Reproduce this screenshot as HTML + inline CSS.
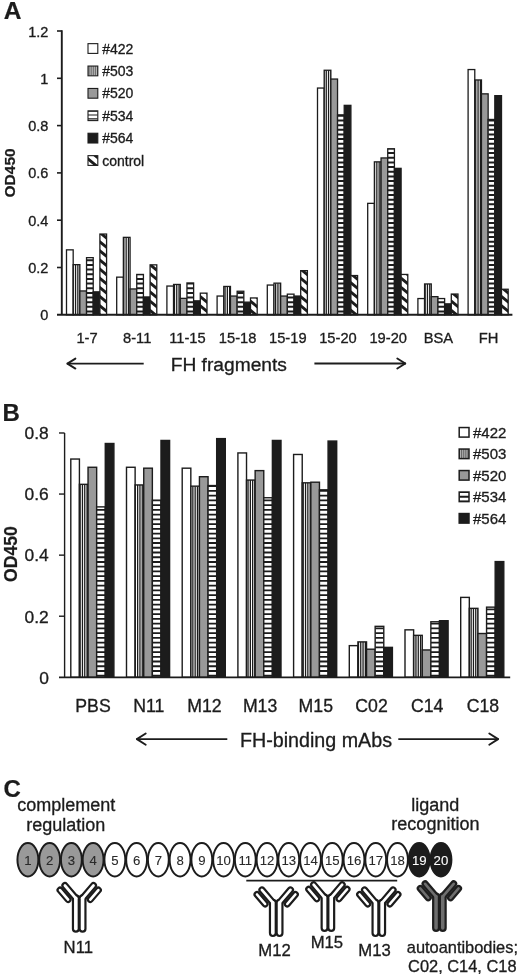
<!DOCTYPE html>
<html><head><meta charset="utf-8"><title>Figure</title>
<style>
html,body{margin:0;padding:0;background:#fff;}
body{width:520px;height:974px;overflow:hidden;}
svg{display:block;font-family:"Liberation Sans",sans-serif;will-change:transform;transform:translateZ(0);}
text{-webkit-font-smoothing:antialiased;}
</style></head><body>
<svg width="520" height="974" viewBox="0 0 520 974">
<defs><clipPath id="c1"><rect x="73.18" y="264.65" width="6.68" height="50.15"/></clipPath><clipPath id="c2"><rect x="86.54" y="257.65" width="6.68" height="57.15"/></clipPath><clipPath id="c3"><rect x="99.90" y="234.05" width="6.68" height="80.75"/></clipPath><clipPath id="c4"><rect x="123.38" y="237.35" width="6.68" height="77.45"/></clipPath><clipPath id="c5"><rect x="136.74" y="274.45" width="6.68" height="40.35"/></clipPath><clipPath id="c6"><rect x="150.10" y="264.85" width="6.68" height="49.95"/></clipPath><clipPath id="c7"><rect x="173.58" y="284.45" width="6.68" height="30.35"/></clipPath><clipPath id="c8"><rect x="186.94" y="282.95" width="6.68" height="31.85"/></clipPath><clipPath id="c9"><rect x="200.30" y="293.15" width="6.68" height="21.65"/></clipPath><clipPath id="c10"><rect x="223.78" y="286.45" width="6.68" height="28.35"/></clipPath><clipPath id="c11"><rect x="237.14" y="291.25" width="6.68" height="23.55"/></clipPath><clipPath id="c12"><rect x="250.50" y="297.95" width="6.68" height="16.85"/></clipPath><clipPath id="c13"><rect x="273.98" y="283.15" width="6.68" height="31.65"/></clipPath><clipPath id="c14"><rect x="287.34" y="294.15" width="6.68" height="20.65"/></clipPath><clipPath id="c15"><rect x="300.70" y="270.65" width="6.68" height="44.15"/></clipPath><clipPath id="c16"><rect x="324.18" y="70.25" width="6.68" height="244.55"/></clipPath><clipPath id="c17"><rect x="337.54" y="114.85" width="6.68" height="199.95"/></clipPath><clipPath id="c18"><rect x="350.90" y="275.55" width="6.68" height="39.25"/></clipPath><clipPath id="c19"><rect x="374.38" y="161.85" width="6.68" height="152.95"/></clipPath><clipPath id="c20"><rect x="387.74" y="148.75" width="6.68" height="166.05"/></clipPath><clipPath id="c21"><rect x="401.10" y="274.45" width="6.68" height="40.35"/></clipPath><clipPath id="c22"><rect x="424.58" y="283.95" width="6.68" height="30.85"/></clipPath><clipPath id="c23"><rect x="437.94" y="298.55" width="6.68" height="16.25"/></clipPath><clipPath id="c24"><rect x="451.30" y="294.05" width="6.68" height="20.75"/></clipPath><clipPath id="c25"><rect x="474.78" y="79.95" width="6.68" height="234.85"/></clipPath><clipPath id="c26"><rect x="488.14" y="119.45" width="6.68" height="195.35"/></clipPath><clipPath id="c27"><rect x="501.50" y="289.25" width="6.68" height="25.55"/></clipPath><clipPath id="c28"><rect x="88.00" y="66.05" width="9.80" height="9.75"/></clipPath><clipPath id="c29"><rect x="88.00" y="110.85" width="9.80" height="9.75"/></clipPath><clipPath id="c30"><rect x="88.00" y="155.65" width="9.80" height="9.75"/></clipPath><clipPath id="c31"><rect x="79.42" y="484.33" width="8.62" height="192.97"/></clipPath><clipPath id="c32"><rect x="96.66" y="506.88" width="8.62" height="170.42"/></clipPath><clipPath id="c33"><rect x="135.12" y="484.94" width="8.62" height="192.36"/></clipPath><clipPath id="c34"><rect x="152.36" y="500.18" width="8.62" height="177.12"/></clipPath><clipPath id="c35"><rect x="190.82" y="486.16" width="8.62" height="191.14"/></clipPath><clipPath id="c36"><rect x="208.06" y="485.55" width="8.62" height="191.75"/></clipPath><clipPath id="c37"><rect x="246.52" y="480.06" width="8.62" height="197.24"/></clipPath><clipPath id="c38"><rect x="263.76" y="497.74" width="8.62" height="179.56"/></clipPath><clipPath id="c39"><rect x="302.22" y="482.81" width="8.62" height="194.49"/></clipPath><clipPath id="c40"><rect x="319.46" y="489.82" width="8.62" height="187.48"/></clipPath><clipPath id="c41"><rect x="357.92" y="641.89" width="8.62" height="35.41"/></clipPath><clipPath id="c42"><rect x="375.16" y="626.34" width="8.62" height="50.96"/></clipPath><clipPath id="c43"><rect x="413.62" y="635.34" width="8.62" height="41.96"/></clipPath><clipPath id="c44"><rect x="430.86" y="621.77" width="8.62" height="55.53"/></clipPath><clipPath id="c45"><rect x="469.32" y="608.36" width="8.62" height="68.94"/></clipPath><clipPath id="c46"><rect x="486.56" y="607.15" width="8.62" height="70.15"/></clipPath><clipPath id="c47"><rect x="459.20" y="449.05" width="9.80" height="9.55"/></clipPath><clipPath id="c48"><rect x="459.20" y="492.05" width="9.80" height="9.55"/></clipPath></defs>
<rect width="520" height="974" fill="#fff"/>
<rect x="66.50" y="249.85" width="6.68" height="64.95" fill="#fff" stroke="#1c1c1c" stroke-width="1.3"/>
<rect x="73.18" y="264.65" width="6.68" height="50.15" fill="#fff"/><path d="M68.65 264.65V314.80M70.95 264.65V314.80M73.25 264.65V314.80M75.55 264.65V314.80M77.85 264.65V314.80M80.15 264.65V314.80" stroke="#1c1c1c" stroke-width="1.3" fill="none" clip-path="url(#c1)"/><rect x="73.18" y="264.65" width="6.68" height="50.15" fill="none" stroke="#1c1c1c" stroke-width="1.3"/>
<rect x="79.86" y="290.95" width="6.68" height="23.85" fill="#999999" stroke="#1c1c1c" stroke-width="1.3"/>
<rect x="86.54" y="257.65" width="6.68" height="57.15" fill="#fff"/><path d="M86.54 250.95H93.22M86.54 255.61H93.22M86.54 260.27H93.22M86.54 264.93H93.22M86.54 269.59H93.22M86.54 274.25H93.22M86.54 278.91H93.22M86.54 283.57H93.22M86.54 288.23H93.22M86.54 292.89H93.22M86.54 297.55H93.22M86.54 302.21H93.22M86.54 306.87H93.22M86.54 311.53H93.22M86.54 316.19H93.22" stroke="#1c1c1c" stroke-width="2.0" fill="none" clip-path="url(#c2)"/><rect x="86.54" y="257.65" width="6.68" height="57.15" fill="none" stroke="#1c1c1c" stroke-width="1.3"/>
<rect x="93.22" y="291.85" width="6.68" height="22.95" fill="#1c1c1c" stroke="#1c1c1c" stroke-width="1.3"/>
<rect x="99.90" y="234.05" width="6.68" height="80.75" fill="#fff"/><path d="M96.90 211.86L109.58 222.26M96.90 221.01L109.58 231.41M96.90 230.16L109.58 240.56M96.90 239.31L109.58 249.71M96.90 248.46L109.58 258.86M96.90 257.61L109.58 268.01M96.90 266.76L109.58 277.16M96.90 275.91L109.58 286.31M96.90 285.06L109.58 295.46M96.90 294.21L109.58 304.61M96.90 303.36L109.58 313.76M96.90 312.51L109.58 322.91" stroke="#1c1c1c" stroke-width="2.9" fill="none" clip-path="url(#c3)"/><rect x="99.90" y="234.05" width="6.68" height="80.75" fill="none" stroke="#1c1c1c" stroke-width="1.3"/>
<rect x="116.70" y="277.15" width="6.68" height="37.65" fill="#fff" stroke="#1c1c1c" stroke-width="1.3"/>
<rect x="123.38" y="237.35" width="6.68" height="77.45" fill="#fff"/><path d="M119.25 237.35V314.80M121.55 237.35V314.80M123.85 237.35V314.80M126.15 237.35V314.80M128.45 237.35V314.80M130.75 237.35V314.80" stroke="#1c1c1c" stroke-width="1.3" fill="none" clip-path="url(#c4)"/><rect x="123.38" y="237.35" width="6.68" height="77.45" fill="none" stroke="#1c1c1c" stroke-width="1.3"/>
<rect x="130.06" y="288.95" width="6.68" height="25.85" fill="#999999" stroke="#1c1c1c" stroke-width="1.3"/>
<rect x="136.74" y="274.45" width="6.68" height="40.35" fill="#fff"/><path d="M136.74 269.59H143.42M136.74 274.25H143.42M136.74 278.91H143.42M136.74 283.57H143.42M136.74 288.23H143.42M136.74 292.89H143.42M136.74 297.55H143.42M136.74 302.21H143.42M136.74 306.87H143.42M136.74 311.53H143.42M136.74 316.19H143.42" stroke="#1c1c1c" stroke-width="2.0" fill="none" clip-path="url(#c5)"/><rect x="136.74" y="274.45" width="6.68" height="40.35" fill="none" stroke="#1c1c1c" stroke-width="1.3"/>
<rect x="143.42" y="296.95" width="6.68" height="17.85" fill="#1c1c1c" stroke="#1c1c1c" stroke-width="1.3"/>
<rect x="150.10" y="264.85" width="6.68" height="49.95" fill="#fff"/><path d="M147.10 243.87L159.78 254.27M147.10 253.02L159.78 263.42M147.10 262.17L159.78 272.57M147.10 271.32L159.78 281.72M147.10 280.47L159.78 290.87M147.10 289.62L159.78 300.02M147.10 298.77L159.78 309.17M147.10 307.92L159.78 318.32M147.10 317.07L159.78 327.47" stroke="#1c1c1c" stroke-width="2.9" fill="none" clip-path="url(#c6)"/><rect x="150.10" y="264.85" width="6.68" height="49.95" fill="none" stroke="#1c1c1c" stroke-width="1.3"/>
<rect x="166.90" y="286.05" width="6.68" height="28.75" fill="#fff" stroke="#1c1c1c" stroke-width="1.3"/>
<rect x="173.58" y="284.45" width="6.68" height="30.35" fill="#fff"/><path d="M169.85 284.45V314.80M172.15 284.45V314.80M174.45 284.45V314.80M176.75 284.45V314.80M179.05 284.45V314.80M181.35 284.45V314.80" stroke="#1c1c1c" stroke-width="1.3" fill="none" clip-path="url(#c7)"/><rect x="173.58" y="284.45" width="6.68" height="30.35" fill="none" stroke="#1c1c1c" stroke-width="1.3"/>
<rect x="180.26" y="298.35" width="6.68" height="16.45" fill="#999999" stroke="#1c1c1c" stroke-width="1.3"/>
<rect x="186.94" y="282.95" width="6.68" height="31.85" fill="#fff"/><path d="M186.94 274.25H193.62M186.94 278.91H193.62M186.94 283.57H193.62M186.94 288.23H193.62M186.94 292.89H193.62M186.94 297.55H193.62M186.94 302.21H193.62M186.94 306.87H193.62M186.94 311.53H193.62M186.94 316.19H193.62" stroke="#1c1c1c" stroke-width="2.0" fill="none" clip-path="url(#c8)"/><rect x="186.94" y="282.95" width="6.68" height="31.85" fill="none" stroke="#1c1c1c" stroke-width="1.3"/>
<rect x="193.62" y="300.85" width="6.68" height="13.95" fill="#1c1c1c" stroke="#1c1c1c" stroke-width="1.3"/>
<rect x="200.30" y="293.15" width="6.68" height="21.65" fill="#fff"/><path d="M197.30 275.89L209.98 286.28M197.30 285.04L209.98 295.43M197.30 294.19L209.98 304.58M197.30 303.34L209.98 313.73M197.30 312.49L209.98 322.88" stroke="#1c1c1c" stroke-width="2.9" fill="none" clip-path="url(#c9)"/><rect x="200.30" y="293.15" width="6.68" height="21.65" fill="none" stroke="#1c1c1c" stroke-width="1.3"/>
<rect x="217.10" y="296.05" width="6.68" height="18.75" fill="#fff" stroke="#1c1c1c" stroke-width="1.3"/>
<rect x="223.78" y="286.45" width="6.68" height="28.35" fill="#fff"/><path d="M220.45 286.45V314.80M222.75 286.45V314.80M225.05 286.45V314.80M227.35 286.45V314.80M229.65 286.45V314.80M231.95 286.45V314.80" stroke="#1c1c1c" stroke-width="1.3" fill="none" clip-path="url(#c10)"/><rect x="223.78" y="286.45" width="6.68" height="28.35" fill="none" stroke="#1c1c1c" stroke-width="1.3"/>
<rect x="230.46" y="296.05" width="6.68" height="18.75" fill="#999999" stroke="#1c1c1c" stroke-width="1.3"/>
<rect x="237.14" y="291.25" width="6.68" height="23.55" fill="#fff"/><path d="M237.14 283.57H243.82M237.14 288.23H243.82M237.14 292.89H243.82M237.14 297.55H243.82M237.14 302.21H243.82M237.14 306.87H243.82M237.14 311.53H243.82M237.14 316.19H243.82" stroke="#1c1c1c" stroke-width="2.0" fill="none" clip-path="url(#c11)"/><rect x="237.14" y="291.25" width="6.68" height="23.55" fill="none" stroke="#1c1c1c" stroke-width="1.3"/>
<rect x="243.82" y="302.15" width="6.68" height="12.65" fill="#1c1c1c" stroke="#1c1c1c" stroke-width="1.3"/>
<rect x="250.50" y="297.95" width="6.68" height="16.85" fill="#fff"/><path d="M247.50 280.45L260.18 290.85M247.50 289.60L260.18 300.00M247.50 298.75L260.18 309.15M247.50 307.90L260.18 318.30M247.50 317.05L260.18 327.45" stroke="#1c1c1c" stroke-width="2.9" fill="none" clip-path="url(#c12)"/><rect x="250.50" y="297.95" width="6.68" height="16.85" fill="none" stroke="#1c1c1c" stroke-width="1.3"/>
<rect x="267.30" y="285.05" width="6.68" height="29.75" fill="#fff" stroke="#1c1c1c" stroke-width="1.3"/>
<rect x="273.98" y="283.15" width="6.68" height="31.65" fill="#fff"/><path d="M271.05 283.15V314.80M273.35 283.15V314.80M275.65 283.15V314.80M277.95 283.15V314.80M280.25 283.15V314.80M282.55 283.15V314.80" stroke="#1c1c1c" stroke-width="1.3" fill="none" clip-path="url(#c13)"/><rect x="273.98" y="283.15" width="6.68" height="31.65" fill="none" stroke="#1c1c1c" stroke-width="1.3"/>
<rect x="280.66" y="296.05" width="6.68" height="18.75" fill="#999999" stroke="#1c1c1c" stroke-width="1.3"/>
<rect x="287.34" y="294.15" width="6.68" height="20.65" fill="#fff"/><path d="M287.34 288.23H294.02M287.34 292.89H294.02M287.34 297.55H294.02M287.34 302.21H294.02M287.34 306.87H294.02M287.34 311.53H294.02M287.34 316.19H294.02" stroke="#1c1c1c" stroke-width="2.0" fill="none" clip-path="url(#c14)"/><rect x="287.34" y="294.15" width="6.68" height="20.65" fill="none" stroke="#1c1c1c" stroke-width="1.3"/>
<rect x="294.02" y="296.05" width="6.68" height="18.75" fill="#1c1c1c" stroke="#1c1c1c" stroke-width="1.3"/>
<rect x="300.70" y="270.65" width="6.68" height="44.15" fill="#fff"/><path d="M297.70 248.41L310.38 258.81M297.70 257.56L310.38 267.96M297.70 266.71L310.38 277.11M297.70 275.86L310.38 286.26M297.70 285.01L310.38 295.41M297.70 294.16L310.38 304.56M297.70 303.31L310.38 313.71M297.70 312.46L310.38 322.86" stroke="#1c1c1c" stroke-width="2.9" fill="none" clip-path="url(#c15)"/><rect x="300.70" y="270.65" width="6.68" height="44.15" fill="none" stroke="#1c1c1c" stroke-width="1.3"/>
<rect x="317.50" y="88.05" width="6.68" height="226.75" fill="#fff" stroke="#1c1c1c" stroke-width="1.3"/>
<rect x="324.18" y="70.25" width="6.68" height="244.55" fill="#fff"/><path d="M321.65 70.25V314.80M323.95 70.25V314.80M326.25 70.25V314.80M328.55 70.25V314.80M330.85 70.25V314.80M333.15 70.25V314.80" stroke="#1c1c1c" stroke-width="1.3" fill="none" clip-path="url(#c16)"/><rect x="324.18" y="70.25" width="6.68" height="244.55" fill="none" stroke="#1c1c1c" stroke-width="1.3"/>
<rect x="330.86" y="79.05" width="6.68" height="235.75" fill="#999999" stroke="#1c1c1c" stroke-width="1.3"/>
<rect x="337.54" y="114.85" width="6.68" height="199.95" fill="#fff"/><path d="M337.54 106.49H344.22M337.54 111.15H344.22M337.54 115.81H344.22M337.54 120.47H344.22M337.54 125.13H344.22M337.54 129.79H344.22M337.54 134.45H344.22M337.54 139.11H344.22M337.54 143.77H344.22M337.54 148.43H344.22M337.54 153.09H344.22M337.54 157.75H344.22M337.54 162.41H344.22M337.54 167.07H344.22M337.54 171.73H344.22M337.54 176.39H344.22M337.54 181.05H344.22M337.54 185.71H344.22M337.54 190.37H344.22M337.54 195.03H344.22M337.54 199.69H344.22M337.54 204.35H344.22M337.54 209.01H344.22M337.54 213.67H344.22M337.54 218.33H344.22M337.54 222.99H344.22M337.54 227.65H344.22M337.54 232.31H344.22M337.54 236.97H344.22M337.54 241.63H344.22M337.54 246.29H344.22M337.54 250.95H344.22M337.54 255.61H344.22M337.54 260.27H344.22M337.54 264.93H344.22M337.54 269.59H344.22M337.54 274.25H344.22M337.54 278.91H344.22M337.54 283.57H344.22M337.54 288.23H344.22M337.54 292.89H344.22M337.54 297.55H344.22M337.54 302.21H344.22M337.54 306.87H344.22M337.54 311.53H344.22M337.54 316.19H344.22" stroke="#1c1c1c" stroke-width="2.0" fill="none" clip-path="url(#c17)"/><rect x="337.54" y="114.85" width="6.68" height="199.95" fill="none" stroke="#1c1c1c" stroke-width="1.3"/>
<rect x="344.22" y="105.35" width="6.68" height="209.45" fill="#1c1c1c" stroke="#1c1c1c" stroke-width="1.3"/>
<rect x="350.90" y="275.55" width="6.68" height="39.25" fill="#fff"/><path d="M347.90 252.98L360.58 263.38M347.90 262.13L360.58 272.53M347.90 271.28L360.58 281.68M347.90 280.43L360.58 290.83M347.90 289.58L360.58 299.98M347.90 298.73L360.58 309.13M347.90 307.88L360.58 318.28M347.90 317.03L360.58 327.43" stroke="#1c1c1c" stroke-width="2.9" fill="none" clip-path="url(#c18)"/><rect x="350.90" y="275.55" width="6.68" height="39.25" fill="none" stroke="#1c1c1c" stroke-width="1.3"/>
<rect x="367.70" y="203.35" width="6.68" height="111.45" fill="#fff" stroke="#1c1c1c" stroke-width="1.3"/>
<rect x="374.38" y="161.85" width="6.68" height="152.95" fill="#fff"/><path d="M369.95 161.85V314.80M372.25 161.85V314.80M374.55 161.85V314.80M376.85 161.85V314.80M379.15 161.85V314.80M381.45 161.85V314.80" stroke="#1c1c1c" stroke-width="1.3" fill="none" clip-path="url(#c19)"/><rect x="374.38" y="161.85" width="6.68" height="152.95" fill="none" stroke="#1c1c1c" stroke-width="1.3"/>
<rect x="381.06" y="157.95" width="6.68" height="156.85" fill="#999999" stroke="#1c1c1c" stroke-width="1.3"/>
<rect x="387.74" y="148.75" width="6.68" height="166.05" fill="#fff"/><path d="M387.74 143.77H394.42M387.74 148.43H394.42M387.74 153.09H394.42M387.74 157.75H394.42M387.74 162.41H394.42M387.74 167.07H394.42M387.74 171.73H394.42M387.74 176.39H394.42M387.74 181.05H394.42M387.74 185.71H394.42M387.74 190.37H394.42M387.74 195.03H394.42M387.74 199.69H394.42M387.74 204.35H394.42M387.74 209.01H394.42M387.74 213.67H394.42M387.74 218.33H394.42M387.74 222.99H394.42M387.74 227.65H394.42M387.74 232.31H394.42M387.74 236.97H394.42M387.74 241.63H394.42M387.74 246.29H394.42M387.74 250.95H394.42M387.74 255.61H394.42M387.74 260.27H394.42M387.74 264.93H394.42M387.74 269.59H394.42M387.74 274.25H394.42M387.74 278.91H394.42M387.74 283.57H394.42M387.74 288.23H394.42M387.74 292.89H394.42M387.74 297.55H394.42M387.74 302.21H394.42M387.74 306.87H394.42M387.74 311.53H394.42M387.74 316.19H394.42" stroke="#1c1c1c" stroke-width="2.0" fill="none" clip-path="url(#c20)"/><rect x="387.74" y="148.75" width="6.68" height="166.05" fill="none" stroke="#1c1c1c" stroke-width="1.3"/>
<rect x="394.42" y="168.35" width="6.68" height="146.45" fill="#1c1c1c" stroke="#1c1c1c" stroke-width="1.3"/>
<rect x="401.10" y="274.45" width="6.68" height="40.35" fill="#fff"/><path d="M398.10 248.39L410.78 258.79M398.10 257.54L410.78 267.94M398.10 266.69L410.78 277.09M398.10 275.84L410.78 286.24M398.10 284.99L410.78 295.39M398.10 294.14L410.78 304.54M398.10 303.29L410.78 313.69M398.10 312.44L410.78 322.84" stroke="#1c1c1c" stroke-width="2.9" fill="none" clip-path="url(#c21)"/><rect x="401.10" y="274.45" width="6.68" height="40.35" fill="none" stroke="#1c1c1c" stroke-width="1.3"/>
<rect x="417.90" y="298.55" width="6.68" height="16.25" fill="#fff" stroke="#1c1c1c" stroke-width="1.3"/>
<rect x="424.58" y="283.95" width="6.68" height="30.85" fill="#fff"/><path d="M420.55 283.95V314.80M422.85 283.95V314.80M425.15 283.95V314.80M427.45 283.95V314.80M429.75 283.95V314.80M432.05 283.95V314.80" stroke="#1c1c1c" stroke-width="1.3" fill="none" clip-path="url(#c22)"/><rect x="424.58" y="283.95" width="6.68" height="30.85" fill="none" stroke="#1c1c1c" stroke-width="1.3"/>
<rect x="431.26" y="296.65" width="6.68" height="18.15" fill="#999999" stroke="#1c1c1c" stroke-width="1.3"/>
<rect x="437.94" y="298.55" width="6.68" height="16.25" fill="#fff"/><path d="M437.94 292.89H444.62M437.94 297.55H444.62M437.94 302.21H444.62M437.94 306.87H444.62M437.94 311.53H444.62M437.94 316.19H444.62" stroke="#1c1c1c" stroke-width="2.0" fill="none" clip-path="url(#c23)"/><rect x="437.94" y="298.55" width="6.68" height="16.25" fill="none" stroke="#1c1c1c" stroke-width="1.3"/>
<rect x="444.62" y="303.85" width="6.68" height="10.95" fill="#1c1c1c" stroke="#1c1c1c" stroke-width="1.3"/>
<rect x="451.30" y="294.05" width="6.68" height="20.75" fill="#fff"/><path d="M448.30 271.26L460.98 281.65M448.30 280.41L460.98 290.80M448.30 289.56L460.98 299.95M448.30 298.71L460.98 309.10M448.30 307.86L460.98 318.25M448.30 317.01L460.98 327.40" stroke="#1c1c1c" stroke-width="2.9" fill="none" clip-path="url(#c24)"/><rect x="451.30" y="294.05" width="6.68" height="20.75" fill="none" stroke="#1c1c1c" stroke-width="1.3"/>
<rect x="468.10" y="69.55" width="6.68" height="245.25" fill="#fff" stroke="#1c1c1c" stroke-width="1.3"/>
<rect x="474.78" y="79.95" width="6.68" height="234.85" fill="#fff"/><path d="M471.15 79.95V314.80M473.45 79.95V314.80M475.75 79.95V314.80M478.05 79.95V314.80M480.35 79.95V314.80M482.65 79.95V314.80" stroke="#1c1c1c" stroke-width="1.3" fill="none" clip-path="url(#c25)"/><rect x="474.78" y="79.95" width="6.68" height="234.85" fill="none" stroke="#1c1c1c" stroke-width="1.3"/>
<rect x="481.46" y="93.85" width="6.68" height="220.95" fill="#999999" stroke="#1c1c1c" stroke-width="1.3"/>
<rect x="488.14" y="119.45" width="6.68" height="195.35" fill="#fff"/><path d="M488.14 111.15H494.82M488.14 115.81H494.82M488.14 120.47H494.82M488.14 125.13H494.82M488.14 129.79H494.82M488.14 134.45H494.82M488.14 139.11H494.82M488.14 143.77H494.82M488.14 148.43H494.82M488.14 153.09H494.82M488.14 157.75H494.82M488.14 162.41H494.82M488.14 167.07H494.82M488.14 171.73H494.82M488.14 176.39H494.82M488.14 181.05H494.82M488.14 185.71H494.82M488.14 190.37H494.82M488.14 195.03H494.82M488.14 199.69H494.82M488.14 204.35H494.82M488.14 209.01H494.82M488.14 213.67H494.82M488.14 218.33H494.82M488.14 222.99H494.82M488.14 227.65H494.82M488.14 232.31H494.82M488.14 236.97H494.82M488.14 241.63H494.82M488.14 246.29H494.82M488.14 250.95H494.82M488.14 255.61H494.82M488.14 260.27H494.82M488.14 264.93H494.82M488.14 269.59H494.82M488.14 274.25H494.82M488.14 278.91H494.82M488.14 283.57H494.82M488.14 288.23H494.82M488.14 292.89H494.82M488.14 297.55H494.82M488.14 302.21H494.82M488.14 306.87H494.82M488.14 311.53H494.82M488.14 316.19H494.82" stroke="#1c1c1c" stroke-width="2.0" fill="none" clip-path="url(#c26)"/><rect x="488.14" y="119.45" width="6.68" height="195.35" fill="none" stroke="#1c1c1c" stroke-width="1.3"/>
<rect x="494.82" y="95.65" width="6.68" height="219.15" fill="#1c1c1c" stroke="#1c1c1c" stroke-width="1.3"/>
<rect x="501.50" y="289.25" width="6.68" height="25.55" fill="#fff"/><path d="M498.50 266.67L511.18 277.07M498.50 275.82L511.18 286.22M498.50 284.97L511.18 295.37M498.50 294.12L511.18 304.52M498.50 303.27L511.18 313.67M498.50 312.42L511.18 322.82" stroke="#1c1c1c" stroke-width="2.9" fill="none" clip-path="url(#c27)"/><rect x="501.50" y="289.25" width="6.68" height="25.55" fill="none" stroke="#1c1c1c" stroke-width="1.3"/>
<path d="M61.8 30.3V314.8" stroke="#1c1c1c" stroke-width="1.9" fill="none"/>
<path d="M57 314.8H512.4" stroke="#1c1c1c" stroke-width="2.1" fill="none"/>
<path d="M57 267.50H61.8" stroke="#1c1c1c" stroke-width="1.6" fill="none"/>
<path d="M57 220.20H61.8" stroke="#1c1c1c" stroke-width="1.6" fill="none"/>
<path d="M57 172.90H61.8" stroke="#1c1c1c" stroke-width="1.6" fill="none"/>
<path d="M57 125.60H61.8" stroke="#1c1c1c" stroke-width="1.6" fill="none"/>
<path d="M57 78.30H61.8" stroke="#1c1c1c" stroke-width="1.6" fill="none"/>
<path d="M57 31.00H61.8" stroke="#1c1c1c" stroke-width="1.6" fill="none"/>
<text x="48.40" y="320.30" font-size="14.5" text-anchor="end" font-weight="normal" fill="#1c1c1c" stroke="#1c1c1c" stroke-width="0.32" >0</text>
<text x="48.40" y="273.00" font-size="14.5" text-anchor="end" font-weight="normal" fill="#1c1c1c" stroke="#1c1c1c" stroke-width="0.32" >0.2</text>
<text x="48.40" y="225.70" font-size="14.5" text-anchor="end" font-weight="normal" fill="#1c1c1c" stroke="#1c1c1c" stroke-width="0.32" >0.4</text>
<text x="48.40" y="178.40" font-size="14.5" text-anchor="end" font-weight="normal" fill="#1c1c1c" stroke="#1c1c1c" stroke-width="0.32" >0.6</text>
<text x="48.40" y="131.10" font-size="14.5" text-anchor="end" font-weight="normal" fill="#1c1c1c" stroke="#1c1c1c" stroke-width="0.32" >0.8</text>
<text x="48.40" y="83.80" font-size="14.5" text-anchor="end" font-weight="normal" fill="#1c1c1c" stroke="#1c1c1c" stroke-width="0.32" >1</text>
<text x="48.40" y="36.50" font-size="14.5" text-anchor="end" font-weight="normal" fill="#1c1c1c" stroke="#1c1c1c" stroke-width="0.32" >1.2</text>
<text x="87.00" y="342.80" font-size="14.7" text-anchor="middle" font-weight="normal" fill="#1c1c1c" stroke="#1c1c1c" stroke-width="0.32" >1-7</text>
<text x="137.20" y="342.80" font-size="14.7" text-anchor="middle" font-weight="normal" fill="#1c1c1c" stroke="#1c1c1c" stroke-width="0.32" >8-11</text>
<text x="187.40" y="342.80" font-size="14.7" text-anchor="middle" font-weight="normal" fill="#1c1c1c" stroke="#1c1c1c" stroke-width="0.32" >11-15</text>
<text x="237.60" y="342.80" font-size="14.7" text-anchor="middle" font-weight="normal" fill="#1c1c1c" stroke="#1c1c1c" stroke-width="0.32" >15-18</text>
<text x="287.80" y="342.80" font-size="14.7" text-anchor="middle" font-weight="normal" fill="#1c1c1c" stroke="#1c1c1c" stroke-width="0.32" >15-19</text>
<text x="338.00" y="342.80" font-size="14.7" text-anchor="middle" font-weight="normal" fill="#1c1c1c" stroke="#1c1c1c" stroke-width="0.32" >15-20</text>
<text x="388.20" y="342.80" font-size="14.7" text-anchor="middle" font-weight="normal" fill="#1c1c1c" stroke="#1c1c1c" stroke-width="0.32" >19-20</text>
<text x="438.40" y="342.80" font-size="14.7" text-anchor="middle" font-weight="normal" fill="#1c1c1c" stroke="#1c1c1c" stroke-width="0.32" >BSA</text>
<text x="488.60" y="342.80" font-size="14.7" text-anchor="middle" font-weight="normal" fill="#1c1c1c" stroke="#1c1c1c" stroke-width="0.32" >FH</text>
<text transform="translate(14.7,172.9) rotate(-90)" font-size="15.5" font-weight="bold" text-anchor="middle" fill="#1c1c1c" stroke="#1c1c1c" stroke-width="0.22">OD450</text>
<rect x="88.00" y="43.65" width="9.80" height="9.75" fill="#fff" stroke="#1c1c1c" stroke-width="1.1"/>
<text x="102.20" y="53.50" font-size="14" text-anchor="start" font-weight="normal" fill="#1c1c1c" stroke="#1c1c1c" stroke-width="0.32" >#422</text>
<rect x="88.00" y="66.05" width="9.80" height="9.75" fill="#fff"/><path d="M86.04 66.05V75.80M88.00 66.05V75.80M89.96 66.05V75.80M91.92 66.05V75.80M93.88 66.05V75.80M95.84 66.05V75.80M97.80 66.05V75.80M99.76 66.05V75.80" stroke="#1c1c1c" stroke-width="0.95" fill="none" clip-path="url(#c28)"/><rect x="88.00" y="66.05" width="9.80" height="9.75" fill="none" stroke="#1c1c1c" stroke-width="1.1"/>
<text x="102.20" y="75.90" font-size="14" text-anchor="start" font-weight="normal" fill="#1c1c1c" stroke="#1c1c1c" stroke-width="0.32" >#503</text>
<rect x="88.00" y="88.45" width="9.80" height="9.75" fill="#999999" stroke="#1c1c1c" stroke-width="1.1"/>
<text x="102.20" y="98.30" font-size="14" text-anchor="start" font-weight="normal" fill="#1c1c1c" stroke="#1c1c1c" stroke-width="0.32" >#520</text>
<rect x="88.00" y="110.85" width="9.80" height="9.75" fill="#fff"/><path d="M88.00 103.30H97.80M88.00 107.20H97.80M88.00 111.10H97.80M88.00 115.00H97.80M88.00 118.90H97.80M88.00 122.80H97.80" stroke="#1c1c1c" stroke-width="1.2" fill="none" clip-path="url(#c29)"/><rect x="88.00" y="110.85" width="9.80" height="9.75" fill="none" stroke="#1c1c1c" stroke-width="1.1"/>
<text x="102.20" y="120.70" font-size="14" text-anchor="start" font-weight="normal" fill="#1c1c1c" stroke="#1c1c1c" stroke-width="0.32" >#534</text>
<rect x="88.00" y="133.25" width="9.80" height="9.75" fill="#1c1c1c" stroke="#1c1c1c" stroke-width="1.1"/>
<text x="102.20" y="143.10" font-size="14" text-anchor="start" font-weight="normal" fill="#1c1c1c" stroke="#1c1c1c" stroke-width="0.32" >#564</text>
<rect x="88.00" y="155.65" width="9.80" height="9.75" fill="#fff"/><path d="M85.00 128.90L100.80 141.86M85.00 138.05L100.80 151.01M85.00 147.20L100.80 160.16M85.00 156.35L100.80 169.31M85.00 165.50L100.80 178.46" stroke="#1c1c1c" stroke-width="2.9" fill="none" clip-path="url(#c30)"/><rect x="88.00" y="155.65" width="9.80" height="9.75" fill="none" stroke="#1c1c1c" stroke-width="1.1"/>
<text x="102.20" y="165.50" font-size="14" text-anchor="start" font-weight="normal" fill="#1c1c1c" stroke="#1c1c1c" stroke-width="0.32" >control</text>
<path d="M66.8 363.6H143.7" stroke="#1c1c1c" stroke-width="1.9" fill="none"/>
<path d="M75.39999999999999 358.6L67.39999999999999 363.6L75.39999999999999 368.6" stroke="#1c1c1c" stroke-width="1.9" fill="none" stroke-linejoin="round" stroke-linecap="round"/>
<path d="M314.4 363.5H405.9" stroke="#1c1c1c" stroke-width="1.9" fill="none"/>
<path d="M397.29999999999995 358.5L405.29999999999995 363.5L397.29999999999995 368.5" stroke="#1c1c1c" stroke-width="1.9" fill="none" stroke-linejoin="round" stroke-linecap="round"/>
<text x="170.70" y="370.80" font-size="19.2" text-anchor="start" font-weight="normal" fill="#1c1c1c" stroke="#1c1c1c" stroke-width="0.32" >FH fragments</text>
<text x="3.80" y="19.30" font-size="24.5" text-anchor="start" font-weight="bold" fill="#1c1c1c" stroke="#1c1c1c" stroke-width="0.22" >A</text>
<rect x="70.80" y="459.04" width="8.62" height="218.26" fill="#fff" stroke="#1c1c1c" stroke-width="1.4"/>
<rect x="79.42" y="484.33" width="8.62" height="192.97" fill="#fff"/><path d="M75.55 484.33V677.30M77.85 484.33V677.30M80.15 484.33V677.30M82.45 484.33V677.30M84.75 484.33V677.30M87.05 484.33V677.30M89.35 484.33V677.30" stroke="#1c1c1c" stroke-width="1.3" fill="none" clip-path="url(#c31)"/><rect x="79.42" y="484.33" width="8.62" height="192.97" fill="none" stroke="#1c1c1c" stroke-width="1.4"/>
<rect x="88.04" y="467.27" width="8.62" height="210.03" fill="#999999" stroke="#1c1c1c" stroke-width="1.4"/>
<rect x="96.66" y="506.88" width="8.62" height="170.42" fill="#fff"/><path d="M96.66 500.36H105.28M96.66 505.10H105.28M96.66 509.84H105.28M96.66 514.58H105.28M96.66 519.32H105.28M96.66 524.06H105.28M96.66 528.80H105.28M96.66 533.54H105.28M96.66 538.28H105.28M96.66 543.02H105.28M96.66 547.76H105.28M96.66 552.50H105.28M96.66 557.24H105.28M96.66 561.98H105.28M96.66 566.72H105.28M96.66 571.46H105.28M96.66 576.20H105.28M96.66 580.94H105.28M96.66 585.68H105.28M96.66 590.42H105.28M96.66 595.16H105.28M96.66 599.90H105.28M96.66 604.64H105.28M96.66 609.38H105.28M96.66 614.12H105.28M96.66 618.86H105.28M96.66 623.60H105.28M96.66 628.34H105.28M96.66 633.08H105.28M96.66 637.82H105.28M96.66 642.56H105.28M96.66 647.30H105.28M96.66 652.04H105.28M96.66 656.78H105.28M96.66 661.52H105.28M96.66 666.26H105.28M96.66 671.00H105.28M96.66 675.74H105.28M96.66 680.48H105.28" stroke="#1c1c1c" stroke-width="1.8" fill="none" clip-path="url(#c32)"/><rect x="96.66" y="506.88" width="8.62" height="170.42" fill="none" stroke="#1c1c1c" stroke-width="1.4"/>
<rect x="105.28" y="443.49" width="8.62" height="233.81" fill="#1c1c1c" stroke="#1c1c1c" stroke-width="1.4"/>
<rect x="126.50" y="467.27" width="8.62" height="210.03" fill="#fff" stroke="#1c1c1c" stroke-width="1.4"/>
<rect x="135.12" y="484.94" width="8.62" height="192.36" fill="#fff"/><path d="M130.75 484.94V677.30M133.05 484.94V677.30M135.35 484.94V677.30M137.65 484.94V677.30M139.95 484.94V677.30M142.25 484.94V677.30M144.55 484.94V677.30" stroke="#1c1c1c" stroke-width="1.3" fill="none" clip-path="url(#c33)"/><rect x="135.12" y="484.94" width="8.62" height="192.36" fill="none" stroke="#1c1c1c" stroke-width="1.4"/>
<rect x="143.74" y="468.18" width="8.62" height="209.12" fill="#999999" stroke="#1c1c1c" stroke-width="1.4"/>
<rect x="152.36" y="500.18" width="8.62" height="177.12" fill="#fff"/><path d="M152.36 490.88H160.98M152.36 495.62H160.98M152.36 500.36H160.98M152.36 505.10H160.98M152.36 509.84H160.98M152.36 514.58H160.98M152.36 519.32H160.98M152.36 524.06H160.98M152.36 528.80H160.98M152.36 533.54H160.98M152.36 538.28H160.98M152.36 543.02H160.98M152.36 547.76H160.98M152.36 552.50H160.98M152.36 557.24H160.98M152.36 561.98H160.98M152.36 566.72H160.98M152.36 571.46H160.98M152.36 576.20H160.98M152.36 580.94H160.98M152.36 585.68H160.98M152.36 590.42H160.98M152.36 595.16H160.98M152.36 599.90H160.98M152.36 604.64H160.98M152.36 609.38H160.98M152.36 614.12H160.98M152.36 618.86H160.98M152.36 623.60H160.98M152.36 628.34H160.98M152.36 633.08H160.98M152.36 637.82H160.98M152.36 642.56H160.98M152.36 647.30H160.98M152.36 652.04H160.98M152.36 656.78H160.98M152.36 661.52H160.98M152.36 666.26H160.98M152.36 671.00H160.98M152.36 675.74H160.98M152.36 680.48H160.98" stroke="#1c1c1c" stroke-width="1.8" fill="none" clip-path="url(#c34)"/><rect x="152.36" y="500.18" width="8.62" height="177.12" fill="none" stroke="#1c1c1c" stroke-width="1.4"/>
<rect x="160.98" y="440.45" width="8.62" height="236.85" fill="#1c1c1c" stroke="#1c1c1c" stroke-width="1.4"/>
<rect x="182.20" y="468.18" width="8.62" height="209.12" fill="#fff" stroke="#1c1c1c" stroke-width="1.4"/>
<rect x="190.82" y="486.16" width="8.62" height="191.14" fill="#fff"/><path d="M188.25 486.16V677.30M190.55 486.16V677.30M192.85 486.16V677.30M195.15 486.16V677.30M197.45 486.16V677.30M199.75 486.16V677.30" stroke="#1c1c1c" stroke-width="1.3" fill="none" clip-path="url(#c35)"/><rect x="190.82" y="486.16" width="8.62" height="191.14" fill="none" stroke="#1c1c1c" stroke-width="1.4"/>
<rect x="199.44" y="476.71" width="8.62" height="200.59" fill="#999999" stroke="#1c1c1c" stroke-width="1.4"/>
<rect x="208.06" y="485.55" width="8.62" height="191.75" fill="#fff"/><path d="M208.06 476.66H216.68M208.06 481.40H216.68M208.06 486.14H216.68M208.06 490.88H216.68M208.06 495.62H216.68M208.06 500.36H216.68M208.06 505.10H216.68M208.06 509.84H216.68M208.06 514.58H216.68M208.06 519.32H216.68M208.06 524.06H216.68M208.06 528.80H216.68M208.06 533.54H216.68M208.06 538.28H216.68M208.06 543.02H216.68M208.06 547.76H216.68M208.06 552.50H216.68M208.06 557.24H216.68M208.06 561.98H216.68M208.06 566.72H216.68M208.06 571.46H216.68M208.06 576.20H216.68M208.06 580.94H216.68M208.06 585.68H216.68M208.06 590.42H216.68M208.06 595.16H216.68M208.06 599.90H216.68M208.06 604.64H216.68M208.06 609.38H216.68M208.06 614.12H216.68M208.06 618.86H216.68M208.06 623.60H216.68M208.06 628.34H216.68M208.06 633.08H216.68M208.06 637.82H216.68M208.06 642.56H216.68M208.06 647.30H216.68M208.06 652.04H216.68M208.06 656.78H216.68M208.06 661.52H216.68M208.06 666.26H216.68M208.06 671.00H216.68M208.06 675.74H216.68M208.06 680.48H216.68" stroke="#1c1c1c" stroke-width="1.8" fill="none" clip-path="url(#c36)"/><rect x="208.06" y="485.55" width="8.62" height="191.75" fill="none" stroke="#1c1c1c" stroke-width="1.4"/>
<rect x="216.68" y="438.62" width="8.62" height="238.68" fill="#1c1c1c" stroke="#1c1c1c" stroke-width="1.4"/>
<rect x="237.90" y="452.94" width="8.62" height="224.36" fill="#fff" stroke="#1c1c1c" stroke-width="1.4"/>
<rect x="246.52" y="480.06" width="8.62" height="197.24" fill="#fff"/><path d="M243.45 480.06V677.30M245.75 480.06V677.30M248.05 480.06V677.30M250.35 480.06V677.30M252.65 480.06V677.30M254.95 480.06V677.30M257.25 480.06V677.30" stroke="#1c1c1c" stroke-width="1.3" fill="none" clip-path="url(#c37)"/><rect x="246.52" y="480.06" width="8.62" height="197.24" fill="none" stroke="#1c1c1c" stroke-width="1.4"/>
<rect x="255.14" y="470.62" width="8.62" height="206.68" fill="#999999" stroke="#1c1c1c" stroke-width="1.4"/>
<rect x="263.76" y="497.74" width="8.62" height="179.56" fill="#fff"/><path d="M263.76 490.88H272.38M263.76 495.62H272.38M263.76 500.36H272.38M263.76 505.10H272.38M263.76 509.84H272.38M263.76 514.58H272.38M263.76 519.32H272.38M263.76 524.06H272.38M263.76 528.80H272.38M263.76 533.54H272.38M263.76 538.28H272.38M263.76 543.02H272.38M263.76 547.76H272.38M263.76 552.50H272.38M263.76 557.24H272.38M263.76 561.98H272.38M263.76 566.72H272.38M263.76 571.46H272.38M263.76 576.20H272.38M263.76 580.94H272.38M263.76 585.68H272.38M263.76 590.42H272.38M263.76 595.16H272.38M263.76 599.90H272.38M263.76 604.64H272.38M263.76 609.38H272.38M263.76 614.12H272.38M263.76 618.86H272.38M263.76 623.60H272.38M263.76 628.34H272.38M263.76 633.08H272.38M263.76 637.82H272.38M263.76 642.56H272.38M263.76 647.30H272.38M263.76 652.04H272.38M263.76 656.78H272.38M263.76 661.52H272.38M263.76 666.26H272.38M263.76 671.00H272.38M263.76 675.74H272.38M263.76 680.48H272.38" stroke="#1c1c1c" stroke-width="1.8" fill="none" clip-path="url(#c38)"/><rect x="263.76" y="497.74" width="8.62" height="179.56" fill="none" stroke="#1c1c1c" stroke-width="1.4"/>
<rect x="272.38" y="440.45" width="8.62" height="236.85" fill="#1c1c1c" stroke="#1c1c1c" stroke-width="1.4"/>
<rect x="293.60" y="454.47" width="8.62" height="222.83" fill="#fff" stroke="#1c1c1c" stroke-width="1.4"/>
<rect x="302.22" y="482.81" width="8.62" height="194.49" fill="#fff"/><path d="M298.65 482.81V677.30M300.95 482.81V677.30M303.25 482.81V677.30M305.55 482.81V677.30M307.85 482.81V677.30M310.15 482.81V677.30M312.45 482.81V677.30" stroke="#1c1c1c" stroke-width="1.3" fill="none" clip-path="url(#c39)"/><rect x="302.22" y="482.81" width="8.62" height="194.49" fill="none" stroke="#1c1c1c" stroke-width="1.4"/>
<rect x="310.84" y="482.20" width="8.62" height="195.10" fill="#999999" stroke="#1c1c1c" stroke-width="1.4"/>
<rect x="319.46" y="489.82" width="8.62" height="187.48" fill="#fff"/><path d="M319.46 481.40H328.08M319.46 486.14H328.08M319.46 490.88H328.08M319.46 495.62H328.08M319.46 500.36H328.08M319.46 505.10H328.08M319.46 509.84H328.08M319.46 514.58H328.08M319.46 519.32H328.08M319.46 524.06H328.08M319.46 528.80H328.08M319.46 533.54H328.08M319.46 538.28H328.08M319.46 543.02H328.08M319.46 547.76H328.08M319.46 552.50H328.08M319.46 557.24H328.08M319.46 561.98H328.08M319.46 566.72H328.08M319.46 571.46H328.08M319.46 576.20H328.08M319.46 580.94H328.08M319.46 585.68H328.08M319.46 590.42H328.08M319.46 595.16H328.08M319.46 599.90H328.08M319.46 604.64H328.08M319.46 609.38H328.08M319.46 614.12H328.08M319.46 618.86H328.08M319.46 623.60H328.08M319.46 628.34H328.08M319.46 633.08H328.08M319.46 637.82H328.08M319.46 642.56H328.08M319.46 647.30H328.08M319.46 652.04H328.08M319.46 656.78H328.08M319.46 661.52H328.08M319.46 666.26H328.08M319.46 671.00H328.08M319.46 675.74H328.08M319.46 680.48H328.08" stroke="#1c1c1c" stroke-width="1.8" fill="none" clip-path="url(#c40)"/><rect x="319.46" y="489.82" width="8.62" height="187.48" fill="none" stroke="#1c1c1c" stroke-width="1.4"/>
<rect x="328.08" y="441.06" width="8.62" height="236.24" fill="#1c1c1c" stroke="#1c1c1c" stroke-width="1.4"/>
<rect x="349.30" y="645.64" width="8.62" height="31.66" fill="#fff" stroke="#1c1c1c" stroke-width="1.4"/>
<rect x="357.92" y="641.89" width="8.62" height="35.41" fill="#fff"/><path d="M353.85 641.89V677.30M356.15 641.89V677.30M358.45 641.89V677.30M360.75 641.89V677.30M363.05 641.89V677.30M365.35 641.89V677.30M367.65 641.89V677.30" stroke="#1c1c1c" stroke-width="1.3" fill="none" clip-path="url(#c41)"/><rect x="357.92" y="641.89" width="8.62" height="35.41" fill="none" stroke="#1c1c1c" stroke-width="1.4"/>
<rect x="366.54" y="649.20" width="8.62" height="28.10" fill="#999999" stroke="#1c1c1c" stroke-width="1.4"/>
<rect x="375.16" y="626.34" width="8.62" height="50.96" fill="#fff"/><path d="M375.16 618.86H383.78M375.16 623.60H383.78M375.16 628.34H383.78M375.16 633.08H383.78M375.16 637.82H383.78M375.16 642.56H383.78M375.16 647.30H383.78M375.16 652.04H383.78M375.16 656.78H383.78M375.16 661.52H383.78M375.16 666.26H383.78M375.16 671.00H383.78M375.16 675.74H383.78M375.16 680.48H383.78" stroke="#1c1c1c" stroke-width="1.8" fill="none" clip-path="url(#c42)"/><rect x="375.16" y="626.34" width="8.62" height="50.96" fill="none" stroke="#1c1c1c" stroke-width="1.4"/>
<rect x="383.78" y="647.37" width="8.62" height="29.93" fill="#1c1c1c" stroke="#1c1c1c" stroke-width="1.4"/>
<rect x="405.00" y="629.85" width="8.62" height="47.45" fill="#fff" stroke="#1c1c1c" stroke-width="1.4"/>
<rect x="413.62" y="635.34" width="8.62" height="41.96" fill="#fff"/><path d="M409.05 635.34V677.30M411.35 635.34V677.30M413.65 635.34V677.30M415.95 635.34V677.30M418.25 635.34V677.30M420.55 635.34V677.30M422.85 635.34V677.30" stroke="#1c1c1c" stroke-width="1.3" fill="none" clip-path="url(#c43)"/><rect x="413.62" y="635.34" width="8.62" height="41.96" fill="none" stroke="#1c1c1c" stroke-width="1.4"/>
<rect x="422.24" y="649.96" width="8.62" height="27.34" fill="#999999" stroke="#1c1c1c" stroke-width="1.4"/>
<rect x="430.86" y="621.77" width="8.62" height="55.53" fill="#fff"/><path d="M430.86 614.12H439.48M430.86 618.86H439.48M430.86 623.60H439.48M430.86 628.34H439.48M430.86 633.08H439.48M430.86 637.82H439.48M430.86 642.56H439.48M430.86 647.30H439.48M430.86 652.04H439.48M430.86 656.78H439.48M430.86 661.52H439.48M430.86 666.26H439.48M430.86 671.00H439.48M430.86 675.74H439.48M430.86 680.48H439.48" stroke="#1c1c1c" stroke-width="1.8" fill="none" clip-path="url(#c44)"/><rect x="430.86" y="621.77" width="8.62" height="55.53" fill="none" stroke="#1c1c1c" stroke-width="1.4"/>
<rect x="439.48" y="620.71" width="8.62" height="56.59" fill="#1c1c1c" stroke="#1c1c1c" stroke-width="1.4"/>
<rect x="460.70" y="597.39" width="8.62" height="79.91" fill="#fff" stroke="#1c1c1c" stroke-width="1.4"/>
<rect x="469.32" y="608.36" width="8.62" height="68.94" fill="#fff"/><path d="M466.55 608.36V677.30M468.85 608.36V677.30M471.15 608.36V677.30M473.45 608.36V677.30M475.75 608.36V677.30M478.05 608.36V677.30" stroke="#1c1c1c" stroke-width="1.3" fill="none" clip-path="url(#c45)"/><rect x="469.32" y="608.36" width="8.62" height="68.94" fill="none" stroke="#1c1c1c" stroke-width="1.4"/>
<rect x="477.94" y="633.51" width="8.62" height="43.79" fill="#999999" stroke="#1c1c1c" stroke-width="1.4"/>
<rect x="486.56" y="607.15" width="8.62" height="70.15" fill="#fff"/><path d="M486.56 599.90H495.18M486.56 604.64H495.18M486.56 609.38H495.18M486.56 614.12H495.18M486.56 618.86H495.18M486.56 623.60H495.18M486.56 628.34H495.18M486.56 633.08H495.18M486.56 637.82H495.18M486.56 642.56H495.18M486.56 647.30H495.18M486.56 652.04H495.18M486.56 656.78H495.18M486.56 661.52H495.18M486.56 666.26H495.18M486.56 671.00H495.18M486.56 675.74H495.18M486.56 680.48H495.18" stroke="#1c1c1c" stroke-width="1.8" fill="none" clip-path="url(#c46)"/><rect x="486.56" y="607.15" width="8.62" height="70.15" fill="none" stroke="#1c1c1c" stroke-width="1.4"/>
<rect x="495.18" y="561.59" width="8.62" height="115.71" fill="#1c1c1c" stroke="#1c1c1c" stroke-width="1.4"/>
<path d="M64.6 433V677.3" stroke="#1c1c1c" stroke-width="1.4" fill="none"/>
<path d="M59 677.3H510.2" stroke="#1c1c1c" stroke-width="1.8" fill="none"/>
<path d="M59 616.22H64.6" stroke="#1c1c1c" stroke-width="1.4" fill="none"/>
<path d="M59 555.14H64.6" stroke="#1c1c1c" stroke-width="1.4" fill="none"/>
<path d="M59 494.06H64.6" stroke="#1c1c1c" stroke-width="1.4" fill="none"/>
<path d="M59 432.98H64.6" stroke="#1c1c1c" stroke-width="1.4" fill="none"/>
<text x="48.80" y="683.60" font-size="17.4" text-anchor="end" font-weight="normal" fill="#1c1c1c" stroke="#1c1c1c" stroke-width="0.32" >0</text>
<text x="48.80" y="622.52" font-size="17.4" text-anchor="end" font-weight="normal" fill="#1c1c1c" stroke="#1c1c1c" stroke-width="0.32" >0.2</text>
<text x="48.80" y="561.44" font-size="17.4" text-anchor="end" font-weight="normal" fill="#1c1c1c" stroke="#1c1c1c" stroke-width="0.32" >0.4</text>
<text x="48.80" y="500.36" font-size="17.4" text-anchor="end" font-weight="normal" fill="#1c1c1c" stroke="#1c1c1c" stroke-width="0.32" >0.6</text>
<text x="48.80" y="439.28" font-size="17.4" text-anchor="end" font-weight="normal" fill="#1c1c1c" stroke="#1c1c1c" stroke-width="0.32" >0.8</text>
<text x="93.00" y="712.20" font-size="17.7" text-anchor="middle" font-weight="normal" fill="#1c1c1c" stroke="#1c1c1c" stroke-width="0.32" >PBS</text>
<text x="148.70" y="712.20" font-size="17.7" text-anchor="middle" font-weight="normal" fill="#1c1c1c" stroke="#1c1c1c" stroke-width="0.32" >N11</text>
<text x="204.40" y="712.20" font-size="17.7" text-anchor="middle" font-weight="normal" fill="#1c1c1c" stroke="#1c1c1c" stroke-width="0.32" >M12</text>
<text x="260.10" y="712.20" font-size="17.7" text-anchor="middle" font-weight="normal" fill="#1c1c1c" stroke="#1c1c1c" stroke-width="0.32" >M13</text>
<text x="315.80" y="712.20" font-size="17.7" text-anchor="middle" font-weight="normal" fill="#1c1c1c" stroke="#1c1c1c" stroke-width="0.32" >M15</text>
<text x="371.50" y="712.20" font-size="17.7" text-anchor="middle" font-weight="normal" fill="#1c1c1c" stroke="#1c1c1c" stroke-width="0.32" >C02</text>
<text x="427.20" y="712.20" font-size="17.7" text-anchor="middle" font-weight="normal" fill="#1c1c1c" stroke="#1c1c1c" stroke-width="0.32" >C14</text>
<text x="482.90" y="712.20" font-size="17.7" text-anchor="middle" font-weight="normal" fill="#1c1c1c" stroke="#1c1c1c" stroke-width="0.32" >C18</text>
<text transform="translate(17.4,554.1) rotate(-90)" font-size="17.6" font-weight="bold" text-anchor="middle" fill="#1c1c1c" stroke="#1c1c1c" stroke-width="0.22">OD450</text>
<rect x="459.20" y="427.55" width="9.80" height="9.55" fill="#fff" stroke="#1c1c1c" stroke-width="1.5"/>
<text x="473.00" y="437.60" font-size="15" text-anchor="start" font-weight="normal" fill="#1c1c1c" stroke="#1c1c1c" stroke-width="0.32" >#422</text>
<rect x="459.20" y="449.05" width="9.80" height="9.55" fill="#fff"/><path d="M457.24 449.05V458.60M459.20 449.05V458.60M461.16 449.05V458.60M463.12 449.05V458.60M465.08 449.05V458.60M467.04 449.05V458.60M469.00 449.05V458.60M470.96 449.05V458.60" stroke="#1c1c1c" stroke-width="1.0" fill="none" clip-path="url(#c47)"/><rect x="459.20" y="449.05" width="9.80" height="9.55" fill="none" stroke="#1c1c1c" stroke-width="1.5"/>
<text x="473.00" y="459.10" font-size="15" text-anchor="start" font-weight="normal" fill="#1c1c1c" stroke="#1c1c1c" stroke-width="0.32" >#503</text>
<rect x="459.20" y="470.55" width="9.80" height="9.55" fill="#999999" stroke="#1c1c1c" stroke-width="1.5"/>
<text x="473.00" y="480.60" font-size="15" text-anchor="start" font-weight="normal" fill="#1c1c1c" stroke="#1c1c1c" stroke-width="0.32" >#520</text>
<rect x="459.20" y="492.05" width="9.80" height="9.55" fill="#fff"/><path d="M459.20 482.78H469.00M459.20 487.44H469.00M459.20 492.10H469.00M459.20 496.76H469.00M459.20 501.42H469.00M459.20 506.08H469.00" stroke="#1c1c1c" stroke-width="2.0" fill="none" clip-path="url(#c48)"/><rect x="459.20" y="492.05" width="9.80" height="9.55" fill="none" stroke="#1c1c1c" stroke-width="1.5"/>
<text x="473.00" y="502.10" font-size="15" text-anchor="start" font-weight="normal" fill="#1c1c1c" stroke="#1c1c1c" stroke-width="0.32" >#534</text>
<rect x="459.20" y="513.55" width="9.80" height="9.55" fill="#1c1c1c" stroke="#1c1c1c" stroke-width="1.5"/>
<text x="473.00" y="523.60" font-size="15" text-anchor="start" font-weight="normal" fill="#1c1c1c" stroke="#1c1c1c" stroke-width="0.32" >#564</text>
<path d="M136.3 739.1H227.3" stroke="#1c1c1c" stroke-width="1.9" fill="none"/>
<path d="M145.70000000000002 733.5L136.9 739.1L145.70000000000002 744.7" stroke="#1c1c1c" stroke-width="1.9" fill="none" stroke-linejoin="round" stroke-linecap="round"/>
<path d="M398.3 739.1H498.7" stroke="#1c1c1c" stroke-width="1.9" fill="none"/>
<path d="M489.3 733.5L498.09999999999997 739.1L489.3 744.7" stroke="#1c1c1c" stroke-width="1.9" fill="none" stroke-linejoin="round" stroke-linecap="round"/>
<text x="239.90" y="747.00" font-size="19.7" text-anchor="start" font-weight="normal" fill="#1c1c1c" stroke="#1c1c1c" stroke-width="0.32" >FH-binding mAbs</text>
<text x="2.40" y="420.80" font-size="24" text-anchor="start" font-weight="bold" fill="#1c1c1c" stroke="#1c1c1c" stroke-width="0.22" >B</text>
<text x="3.50" y="796.50" font-size="24" text-anchor="start" font-weight="bold" fill="#1c1c1c" stroke="#1c1c1c" stroke-width="0.22" >C</text>
<text x="66.30" y="811.30" font-size="18" text-anchor="middle" font-weight="normal" fill="#1c1c1c" stroke="#1c1c1c" stroke-width="0.32" >complement</text>
<text x="65.80" y="830.60" font-size="18" text-anchor="middle" font-weight="normal" fill="#1c1c1c" stroke="#1c1c1c" stroke-width="0.32" >regulation</text>
<text x="435.30" y="810.60" font-size="18" text-anchor="middle" font-weight="normal" fill="#1c1c1c" stroke="#1c1c1c" stroke-width="0.32" >ligand</text>
<text x="435.40" y="830.00" font-size="18" text-anchor="middle" font-weight="normal" fill="#1c1c1c" stroke="#1c1c1c" stroke-width="0.32" >recognition</text>
<ellipse cx="27.90" cy="859.75" rx="10.45" ry="16.7" fill="#999999"/>
<ellipse cx="49.64" cy="859.75" rx="10.45" ry="16.7" fill="#999999"/>
<ellipse cx="71.38" cy="859.75" rx="10.45" ry="16.7" fill="#999999"/>
<ellipse cx="93.12" cy="859.75" rx="10.45" ry="16.7" fill="#999999"/>
<ellipse cx="114.86" cy="859.75" rx="10.45" ry="16.7" fill="#fff"/>
<ellipse cx="136.60" cy="859.75" rx="10.45" ry="16.7" fill="#fff"/>
<ellipse cx="158.34" cy="859.75" rx="10.45" ry="16.7" fill="#fff"/>
<ellipse cx="180.08" cy="859.75" rx="10.45" ry="16.7" fill="#fff"/>
<ellipse cx="201.82" cy="859.75" rx="10.45" ry="16.7" fill="#fff"/>
<ellipse cx="223.56" cy="859.75" rx="10.45" ry="16.7" fill="#fff"/>
<ellipse cx="245.30" cy="859.75" rx="10.45" ry="16.7" fill="#fff"/>
<ellipse cx="267.04" cy="859.75" rx="10.45" ry="16.7" fill="#fff"/>
<ellipse cx="288.78" cy="859.75" rx="10.45" ry="16.7" fill="#fff"/>
<ellipse cx="310.52" cy="859.75" rx="10.45" ry="16.7" fill="#fff"/>
<ellipse cx="332.26" cy="859.75" rx="10.45" ry="16.7" fill="#fff"/>
<ellipse cx="354.00" cy="859.75" rx="10.45" ry="16.7" fill="#fff"/>
<ellipse cx="375.74" cy="859.75" rx="10.45" ry="16.7" fill="#fff"/>
<ellipse cx="397.48" cy="859.75" rx="10.45" ry="16.7" fill="#fff"/>
<ellipse cx="419.22" cy="859.75" rx="10.45" ry="16.7" fill="#1c1c1c"/>
<ellipse cx="440.96" cy="859.75" rx="10.45" ry="16.7" fill="#1c1c1c"/>
<ellipse cx="27.90" cy="859.75" rx="10.45" ry="16.7" fill="none" stroke="#1c1c1c" stroke-width="2.0"/>
<text x="27.90" y="864.85" font-size="13.2" text-anchor="middle" fill="#2a2a2a" stroke="#1c1c1c" stroke-width="0.1">1</text>
<ellipse cx="49.64" cy="859.75" rx="10.45" ry="16.7" fill="none" stroke="#1c1c1c" stroke-width="2.0"/>
<text x="49.64" y="864.85" font-size="13.2" text-anchor="middle" fill="#2a2a2a" stroke="#1c1c1c" stroke-width="0.1">2</text>
<ellipse cx="71.38" cy="859.75" rx="10.45" ry="16.7" fill="none" stroke="#1c1c1c" stroke-width="2.0"/>
<text x="71.38" y="864.85" font-size="13.2" text-anchor="middle" fill="#2a2a2a" stroke="#1c1c1c" stroke-width="0.1">3</text>
<ellipse cx="93.12" cy="859.75" rx="10.45" ry="16.7" fill="none" stroke="#1c1c1c" stroke-width="2.0"/>
<text x="93.12" y="864.85" font-size="13.2" text-anchor="middle" fill="#2a2a2a" stroke="#1c1c1c" stroke-width="0.1">4</text>
<ellipse cx="114.86" cy="859.75" rx="10.45" ry="16.7" fill="none" stroke="#1c1c1c" stroke-width="2.0"/>
<text x="114.86" y="864.85" font-size="13.2" text-anchor="middle" fill="#2a2a2a" stroke="#1c1c1c" stroke-width="0.1">5</text>
<ellipse cx="136.60" cy="859.75" rx="10.45" ry="16.7" fill="none" stroke="#1c1c1c" stroke-width="2.0"/>
<text x="136.60" y="864.85" font-size="13.2" text-anchor="middle" fill="#2a2a2a" stroke="#1c1c1c" stroke-width="0.1">6</text>
<ellipse cx="158.34" cy="859.75" rx="10.45" ry="16.7" fill="none" stroke="#1c1c1c" stroke-width="2.0"/>
<text x="158.34" y="864.85" font-size="13.2" text-anchor="middle" fill="#2a2a2a" stroke="#1c1c1c" stroke-width="0.1">7</text>
<ellipse cx="180.08" cy="859.75" rx="10.45" ry="16.7" fill="none" stroke="#1c1c1c" stroke-width="2.0"/>
<text x="180.08" y="864.85" font-size="13.2" text-anchor="middle" fill="#2a2a2a" stroke="#1c1c1c" stroke-width="0.1">8</text>
<ellipse cx="201.82" cy="859.75" rx="10.45" ry="16.7" fill="none" stroke="#1c1c1c" stroke-width="2.0"/>
<text x="201.82" y="864.85" font-size="13.2" text-anchor="middle" fill="#2a2a2a" stroke="#1c1c1c" stroke-width="0.1">9</text>
<ellipse cx="223.56" cy="859.75" rx="10.45" ry="16.7" fill="none" stroke="#1c1c1c" stroke-width="2.0"/>
<text x="223.56" y="864.85" font-size="13.2" text-anchor="middle" fill="#2a2a2a" stroke="#1c1c1c" stroke-width="0.1">10</text>
<ellipse cx="245.30" cy="859.75" rx="10.45" ry="16.7" fill="none" stroke="#1c1c1c" stroke-width="2.0"/>
<text x="245.30" y="864.85" font-size="13.2" text-anchor="middle" fill="#2a2a2a" stroke="#1c1c1c" stroke-width="0.1">11</text>
<ellipse cx="267.04" cy="859.75" rx="10.45" ry="16.7" fill="none" stroke="#1c1c1c" stroke-width="2.0"/>
<text x="267.04" y="864.85" font-size="13.2" text-anchor="middle" fill="#2a2a2a" stroke="#1c1c1c" stroke-width="0.1">12</text>
<ellipse cx="288.78" cy="859.75" rx="10.45" ry="16.7" fill="none" stroke="#1c1c1c" stroke-width="2.0"/>
<text x="288.78" y="864.85" font-size="13.2" text-anchor="middle" fill="#2a2a2a" stroke="#1c1c1c" stroke-width="0.1">13</text>
<ellipse cx="310.52" cy="859.75" rx="10.45" ry="16.7" fill="none" stroke="#1c1c1c" stroke-width="2.0"/>
<text x="310.52" y="864.85" font-size="13.2" text-anchor="middle" fill="#2a2a2a" stroke="#1c1c1c" stroke-width="0.1">14</text>
<ellipse cx="332.26" cy="859.75" rx="10.45" ry="16.7" fill="none" stroke="#1c1c1c" stroke-width="2.0"/>
<text x="332.26" y="864.85" font-size="13.2" text-anchor="middle" fill="#2a2a2a" stroke="#1c1c1c" stroke-width="0.1">15</text>
<ellipse cx="354.00" cy="859.75" rx="10.45" ry="16.7" fill="none" stroke="#1c1c1c" stroke-width="2.0"/>
<text x="354.00" y="864.85" font-size="13.2" text-anchor="middle" fill="#2a2a2a" stroke="#1c1c1c" stroke-width="0.1">16</text>
<ellipse cx="375.74" cy="859.75" rx="10.45" ry="16.7" fill="none" stroke="#1c1c1c" stroke-width="2.0"/>
<text x="375.74" y="864.85" font-size="13.2" text-anchor="middle" fill="#2a2a2a" stroke="#1c1c1c" stroke-width="0.1">17</text>
<ellipse cx="397.48" cy="859.75" rx="10.45" ry="16.7" fill="none" stroke="#1c1c1c" stroke-width="2.0"/>
<text x="397.48" y="864.85" font-size="13.2" text-anchor="middle" fill="#2a2a2a" stroke="#1c1c1c" stroke-width="0.1">18</text>
<ellipse cx="419.22" cy="859.75" rx="10.45" ry="16.7" fill="none" stroke="#1c1c1c" stroke-width="2.0"/>
<text x="419.22" y="864.85" font-size="13.2" text-anchor="middle" fill="#fff" stroke="#fff" stroke-width="0.1">19</text>
<ellipse cx="440.96" cy="859.75" rx="10.45" ry="16.7" fill="none" stroke="#1c1c1c" stroke-width="2.0"/>
<text x="440.96" y="864.85" font-size="13.2" text-anchor="middle" fill="#fff" stroke="#fff" stroke-width="0.1">20</text>
<path d="M246.3 880.7H397.2" stroke="#1c1c1c" stroke-width="1.8" fill="none"/>
<path d="M60.00 890.08L68.12 899.58" stroke="#1c1c1c" stroke-width="7.00" stroke-linecap="round" fill="none"/>
<path d="M75.85 898.32V928.70" stroke="#1c1c1c" stroke-width="8.00" stroke-linecap="round" fill="none"/>
<path d="M64.90 885.50L75.85 898.32" stroke="#1c1c1c" stroke-width="7.10" stroke-linecap="round" fill="none"/>
<path d="M98.40 890.08L90.28 899.58" stroke="#1c1c1c" stroke-width="7.00" stroke-linecap="round" fill="none"/>
<path d="M82.55 898.32V928.70" stroke="#1c1c1c" stroke-width="8.00" stroke-linecap="round" fill="none"/>
<path d="M93.50 885.50L82.55 898.32" stroke="#1c1c1c" stroke-width="7.10" stroke-linecap="round" fill="none"/>
<path d="M60.00 890.08L68.12 899.58" stroke="#fff" stroke-width="2.60" stroke-linecap="round" fill="none"/>
<path d="M75.85 898.32V928.70" stroke="#fff" stroke-width="3.60" stroke-linecap="round" fill="none"/>
<path d="M64.90 885.50L75.85 898.32" stroke="#fff" stroke-width="2.70" stroke-linecap="round" fill="none"/>
<path d="M98.40 890.08L90.28 899.58" stroke="#fff" stroke-width="2.60" stroke-linecap="round" fill="none"/>
<path d="M82.55 898.32V928.70" stroke="#fff" stroke-width="3.60" stroke-linecap="round" fill="none"/>
<path d="M93.50 885.50L82.55 898.32" stroke="#fff" stroke-width="2.70" stroke-linecap="round" fill="none"/>
<path d="M257.00 894.48L265.12 903.98" stroke="#1c1c1c" stroke-width="7.00" stroke-linecap="round" fill="none"/>
<path d="M272.85 902.72V933.10" stroke="#1c1c1c" stroke-width="8.00" stroke-linecap="round" fill="none"/>
<path d="M261.90 889.90L272.85 902.72" stroke="#1c1c1c" stroke-width="7.10" stroke-linecap="round" fill="none"/>
<path d="M295.40 894.48L287.28 903.98" stroke="#1c1c1c" stroke-width="7.00" stroke-linecap="round" fill="none"/>
<path d="M279.55 902.72V933.10" stroke="#1c1c1c" stroke-width="8.00" stroke-linecap="round" fill="none"/>
<path d="M290.50 889.90L279.55 902.72" stroke="#1c1c1c" stroke-width="7.10" stroke-linecap="round" fill="none"/>
<path d="M257.00 894.48L265.12 903.98" stroke="#fff" stroke-width="2.60" stroke-linecap="round" fill="none"/>
<path d="M272.85 902.72V933.10" stroke="#fff" stroke-width="3.60" stroke-linecap="round" fill="none"/>
<path d="M261.90 889.90L272.85 902.72" stroke="#fff" stroke-width="2.70" stroke-linecap="round" fill="none"/>
<path d="M295.40 894.48L287.28 903.98" stroke="#fff" stroke-width="2.60" stroke-linecap="round" fill="none"/>
<path d="M279.55 902.72V933.10" stroke="#fff" stroke-width="3.60" stroke-linecap="round" fill="none"/>
<path d="M290.50 889.90L279.55 902.72" stroke="#fff" stroke-width="2.70" stroke-linecap="round" fill="none"/>
<path d="M308.70 889.28L316.82 898.78" stroke="#1c1c1c" stroke-width="7.00" stroke-linecap="round" fill="none"/>
<path d="M324.55 897.52V927.90" stroke="#1c1c1c" stroke-width="8.00" stroke-linecap="round" fill="none"/>
<path d="M313.60 884.70L324.55 897.52" stroke="#1c1c1c" stroke-width="7.10" stroke-linecap="round" fill="none"/>
<path d="M347.10 889.28L338.98 898.78" stroke="#1c1c1c" stroke-width="7.00" stroke-linecap="round" fill="none"/>
<path d="M331.25 897.52V927.90" stroke="#1c1c1c" stroke-width="8.00" stroke-linecap="round" fill="none"/>
<path d="M342.20 884.70L331.25 897.52" stroke="#1c1c1c" stroke-width="7.10" stroke-linecap="round" fill="none"/>
<path d="M308.70 889.28L316.82 898.78" stroke="#fff" stroke-width="2.60" stroke-linecap="round" fill="none"/>
<path d="M324.55 897.52V927.90" stroke="#fff" stroke-width="3.60" stroke-linecap="round" fill="none"/>
<path d="M313.60 884.70L324.55 897.52" stroke="#fff" stroke-width="2.70" stroke-linecap="round" fill="none"/>
<path d="M347.10 889.28L338.98 898.78" stroke="#fff" stroke-width="2.60" stroke-linecap="round" fill="none"/>
<path d="M331.25 897.52V927.90" stroke="#fff" stroke-width="3.60" stroke-linecap="round" fill="none"/>
<path d="M342.20 884.70L331.25 897.52" stroke="#fff" stroke-width="2.70" stroke-linecap="round" fill="none"/>
<path d="M359.60 894.48L367.72 903.98" stroke="#1c1c1c" stroke-width="7.00" stroke-linecap="round" fill="none"/>
<path d="M375.45 902.72V933.10" stroke="#1c1c1c" stroke-width="8.00" stroke-linecap="round" fill="none"/>
<path d="M364.50 889.90L375.45 902.72" stroke="#1c1c1c" stroke-width="7.10" stroke-linecap="round" fill="none"/>
<path d="M398.00 894.48L389.88 903.98" stroke="#1c1c1c" stroke-width="7.00" stroke-linecap="round" fill="none"/>
<path d="M382.15 902.72V933.10" stroke="#1c1c1c" stroke-width="8.00" stroke-linecap="round" fill="none"/>
<path d="M393.10 889.90L382.15 902.72" stroke="#1c1c1c" stroke-width="7.10" stroke-linecap="round" fill="none"/>
<path d="M359.60 894.48L367.72 903.98" stroke="#fff" stroke-width="2.60" stroke-linecap="round" fill="none"/>
<path d="M375.45 902.72V933.10" stroke="#fff" stroke-width="3.60" stroke-linecap="round" fill="none"/>
<path d="M364.50 889.90L375.45 902.72" stroke="#fff" stroke-width="2.70" stroke-linecap="round" fill="none"/>
<path d="M398.00 894.48L389.88 903.98" stroke="#fff" stroke-width="2.60" stroke-linecap="round" fill="none"/>
<path d="M382.15 902.72V933.10" stroke="#fff" stroke-width="3.60" stroke-linecap="round" fill="none"/>
<path d="M393.10 889.90L382.15 902.72" stroke="#fff" stroke-width="2.70" stroke-linecap="round" fill="none"/>
<path d="M420.20 888.38L428.32 897.88" stroke="#1e1e1e" stroke-width="7.00" stroke-linecap="round" fill="none"/>
<path d="M436.05 896.62V928.10" stroke="#1e1e1e" stroke-width="8.00" stroke-linecap="round" fill="none"/>
<path d="M425.10 883.80L436.05 896.62" stroke="#1e1e1e" stroke-width="7.10" stroke-linecap="round" fill="none"/>
<path d="M458.60 888.38L450.48 897.88" stroke="#1e1e1e" stroke-width="7.00" stroke-linecap="round" fill="none"/>
<path d="M442.75 896.62V928.10" stroke="#1e1e1e" stroke-width="8.00" stroke-linecap="round" fill="none"/>
<path d="M453.70 883.80L442.75 896.62" stroke="#1e1e1e" stroke-width="7.10" stroke-linecap="round" fill="none"/>
<path d="M420.20 888.38L428.32 897.88" stroke="#6e6e6e" stroke-width="2.50" stroke-linecap="round" fill="none"/>
<path d="M436.05 896.62V928.10" stroke="#6e6e6e" stroke-width="3.50" stroke-linecap="round" fill="none"/>
<path d="M425.10 883.80L436.05 896.62" stroke="#6e6e6e" stroke-width="2.60" stroke-linecap="round" fill="none"/>
<path d="M458.60 888.38L450.48 897.88" stroke="#6e6e6e" stroke-width="2.50" stroke-linecap="round" fill="none"/>
<path d="M442.75 896.62V928.10" stroke="#6e6e6e" stroke-width="3.50" stroke-linecap="round" fill="none"/>
<path d="M453.70 883.80L442.75 896.62" stroke="#6e6e6e" stroke-width="2.60" stroke-linecap="round" fill="none"/>
<text x="78.30" y="952.60" font-size="16.7" text-anchor="middle" font-weight="normal" fill="#1c1c1c" stroke="#1c1c1c" stroke-width="0.32" >N11</text>
<text x="274.60" y="956.00" font-size="16.7" text-anchor="middle" font-weight="normal" fill="#1c1c1c" stroke="#1c1c1c" stroke-width="0.32" >M12</text>
<text x="326.90" y="947.90" font-size="16.7" text-anchor="middle" font-weight="normal" fill="#1c1c1c" stroke="#1c1c1c" stroke-width="0.32" >M15</text>
<text x="374.60" y="956.00" font-size="16.7" text-anchor="middle" font-weight="normal" fill="#1c1c1c" stroke="#1c1c1c" stroke-width="0.32" >M13</text>
<text x="462.40" y="952.70" font-size="16.4" text-anchor="middle" font-weight="normal" fill="#1c1c1c" stroke="#1c1c1c" stroke-width="0.32" >autoantibodies;</text>
<text x="462.30" y="972.20" font-size="16.4" text-anchor="middle" font-weight="normal" fill="#1c1c1c" stroke="#1c1c1c" stroke-width="0.32" >C02, C14, C18</text>
</svg>
</body></html>
